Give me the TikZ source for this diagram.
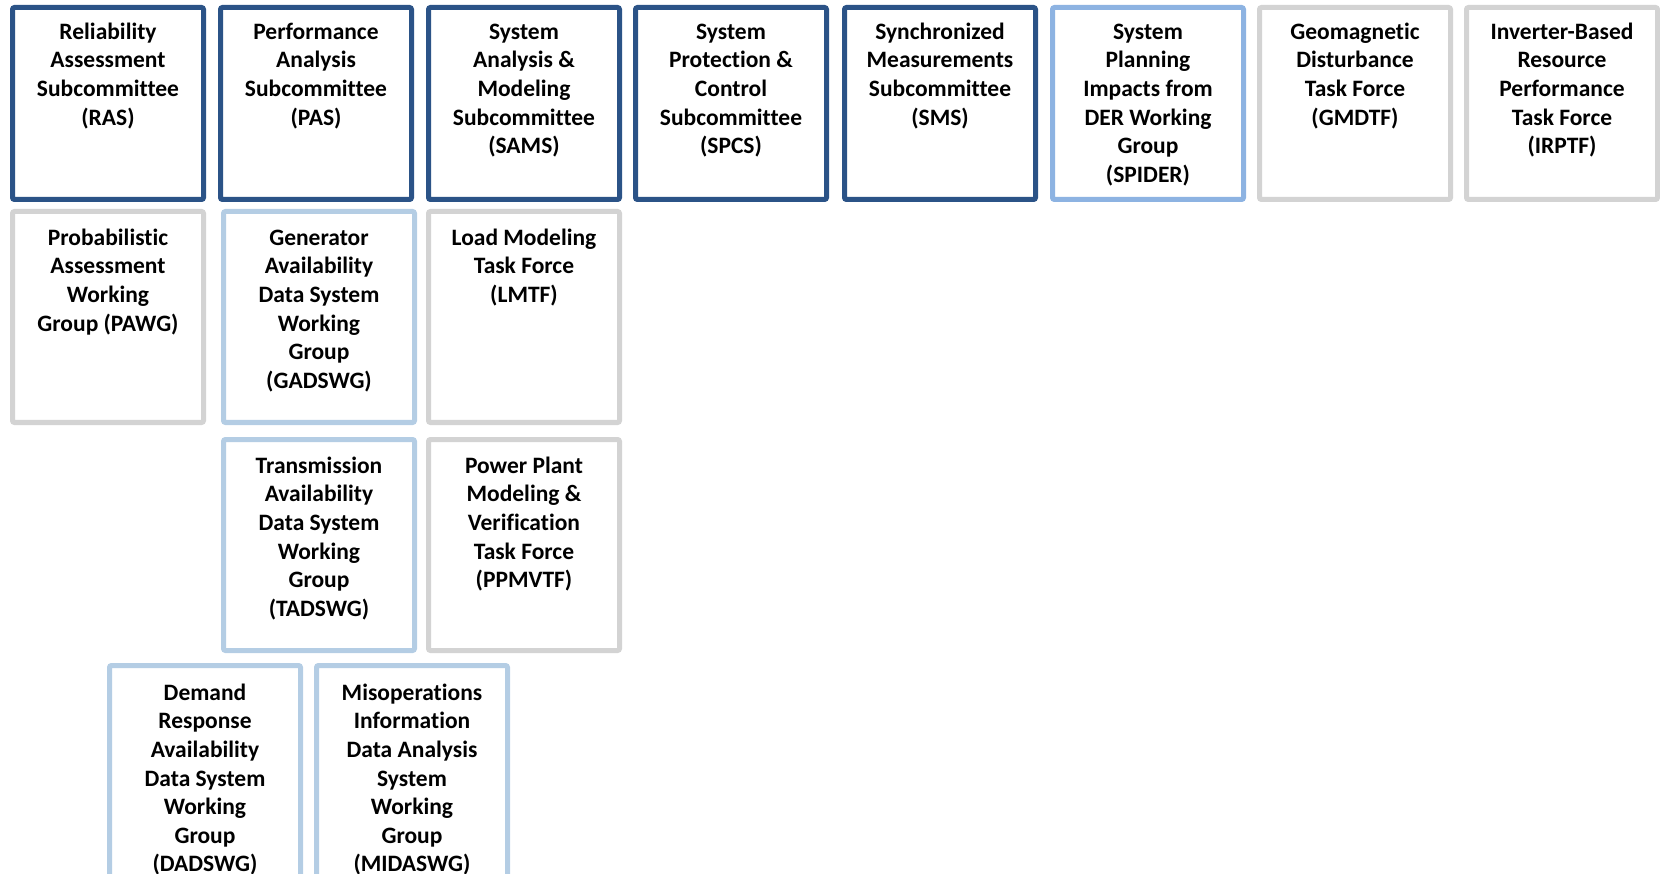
\documentclass[tikz,border=0pt]{standalone}
\usepackage{fontspec}
\setmainfont[Ligatures={NoCommon}]{Carlito}
\definecolor{darkb}{HTML}{2B5387}
\definecolor{midb}{HTML}{8DB3E2}
\definecolor{lightb}{HTML}{B4CDE4}
\definecolor{greyb}{HTML}{D3D3D3}
\tikzset{
  box/.style={rectangle, rounded corners=2pt, line width=5pt, fill=white, minimum width=191pt, inner sep=0pt, outer sep=0pt, anchor=north west},
  darkbox/.style={box, draw=darkb, minimum height=192pt},
  midbox/.style={box, draw=midb, minimum height=192pt},
  greybox/.style={box, draw=greyb},
  lightbox/.style={box, draw=lightb},
  lbl/.style={anchor=north, align=center, inner sep=0pt, text=black, font=\fontsize{23.5}{28.6}\selectfont\bfseries}
}
\begin{document}
\begin{tikzpicture}[x=1pt,y=-1pt]
\useasboundingbox (0,0) rectangle (1660,874);
% Row 1
\node[darkbox] (ras) at (12.5,7.5) {};
\node[lbl] (rast) at ([yshift=-11.5pt]ras.north) {\strut Reliability\\Assessment\\Subcommittee\\(RAS)};
\node[darkbox] (pas) at (220.5,7.5) {};
\node[lbl] (past) at ([yshift=-11.5pt]pas.north) {\strut Performance\\Analysis\\Subcommittee\\(PAS)};
\node[darkbox] (sams) at (428.5,7.5) {};
\node[lbl] (samst) at ([yshift=-11.5pt]sams.north) {\strut System\\Analysis \&\\Modeling\\Subcommittee\\(SAMS)};
\node[darkbox] (spcs) at (635.5,7.5) {};
\node[lbl] (spcst) at ([yshift=-11.5pt]spcs.north) {\strut System\\Protection \&\\Control\\Subcommittee\\(SPCS)};
\node[darkbox] (sms) at (844.5,7.5) {};
\node[lbl] (smst) at ([yshift=-11.5pt]sms.north) {\strut Synchronized\\Measurements\\Subcommittee\\(SMS)};
\node[midbox] (spider) at (1052.5,7.5) {};
\node[lbl] (spidert) at ([yshift=-11.5pt]spider.north) {\strut System\\Planning\\Impacts from\\DER Working\\Group\\(SPIDER)};
\node[greybox, minimum height=192pt] (gmdtf) at (1259.5,7.5) {};
\node[lbl] (gmdtft) at ([yshift=-11.5pt]gmdtf.north) {\strut Geomagnetic\\Disturbance\\Task Force\\(GMDTF)};
\node[greybox, minimum height=192pt] (irptf) at (1466.5,7.5) {};
\node[lbl] (irptft) at ([yshift=-11.5pt]irptf.north) {\strut Inverter-Based\\Resource\\Performance\\Task Force\\(IRPTF)};
% Row 2
\node[greybox, minimum height=211pt] (pawg) at (12.5,211.5) {};
\node[lbl] (pawgt) at ([yshift=-13.5pt]pawg.north) {\strut Probabilistic\\Assessment\\Working\\Group (PAWG)};
\node[lightbox, minimum height=211pt] (gadswg) at (223.5,211.5) {};
\node[lbl] (gadswgt) at ([yshift=-13.5pt]gadswg.north) {\strut Generator\\Availability\\Data System\\Working\\Group\\(GADSWG)};
\node[greybox, minimum height=211pt] (lmtf) at (428.5,211.5) {};
\node[lbl] (lmtft) at ([yshift=-13.5pt]lmtf.north) {\strut Load Modeling\\Task Force\\(LMTF)};
% Row 3
\node[lightbox, minimum height=211pt] (tadswg) at (223.5,439.5) {};
\node[lbl] (tadswgt) at ([yshift=-13.5pt]tadswg.north) {\strut Transmission\\Availability\\Data System\\Working\\Group\\(TADSWG)};
\node[greybox, minimum height=211pt] (ppmvtf) at (428.5,439.5) {};
\node[lbl] (ppmvtft) at ([yshift=-13.5pt]ppmvtf.north) {\strut Power Plant\\Modeling \&\\Verification\\Task Force\\(PPMVTF)};
% Row 4
\node[lightbox, minimum height=250pt] (dadswg) at (109.5,665.5) {};
\node[lbl] (dadswgt) at ([yshift=-14.5pt]dadswg.north) {\strut Demand\\Response\\Availability\\Data System\\Working\\Group\\(DADSWG)};
\node[lightbox, minimum height=250pt] (midaswg) at (316.5,665.5) {};
\node[lbl] (midaswgt) at ([yshift=-14.5pt]midaswg.north) {\strut Misoperations\\Information\\Data Analysis\\System\\Working\\Group\\(MIDASWG)};
\end{tikzpicture}
\end{document}
